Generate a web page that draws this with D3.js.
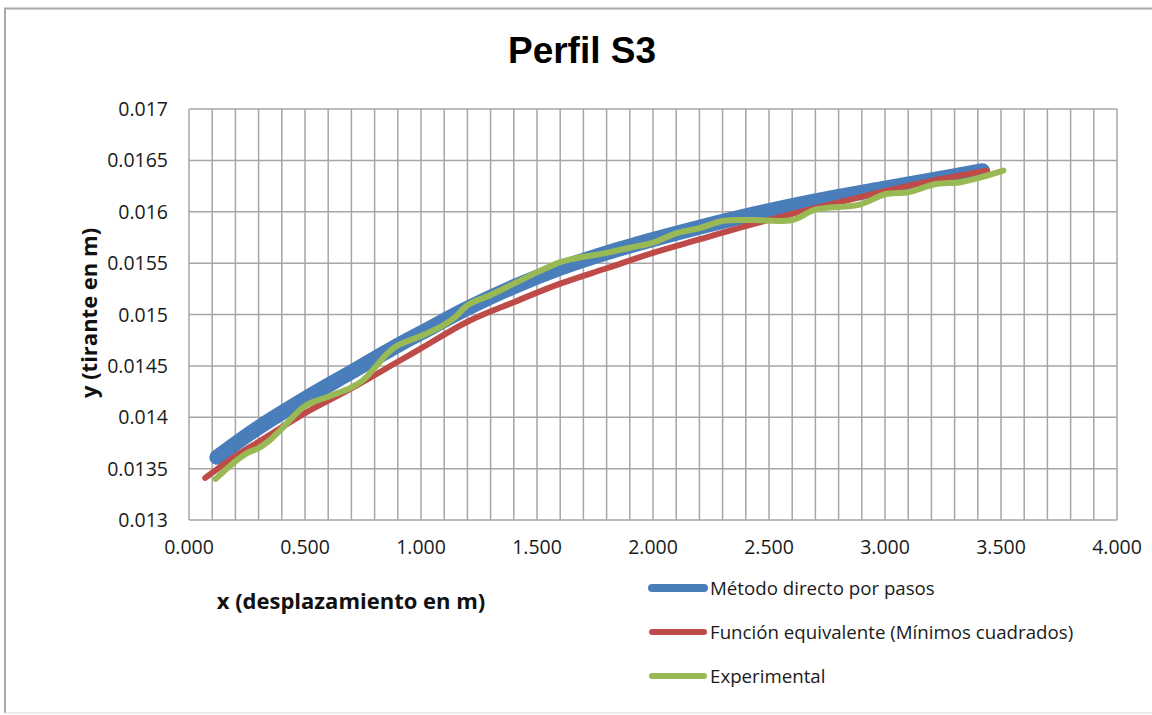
<!DOCTYPE html>
<html>
<head>
<meta charset="utf-8">
<script src="https://cdn.jsdelivr.net/npm/d3@7/dist/d3.min.js"></script>
<style>
    body { margin: 0; background: #fff; }
    .grid line { stroke: #a6a6a6; stroke-width: 1.5; }
    .tick-label { font-family: "Open Sans", sans-serif; font-size: 19.5px; fill: #1a1a1a; }
    .axis-title { font-family: "Open Sans", sans-serif; font-size: 22px; font-weight: bold; fill: #111; }
    .legend-label { font-family: "Open Sans", sans-serif; font-size: 18.7px; fill: #1a1a1a; }
</style>
</head>
<body>
<div id="chart"></div>
<script>
// Método directo por pasos
var metodoX = [0.12, 0.30, 0.50, 0.70, 0.90, 1.00, 1.20, 1.40, 1.60, 1.80, 2.00, 2.20, 2.40, 2.60, 2.80, 3.00, 3.20, 3.42];
var metodoY = [0.01361, 0.01390, 0.01418, 0.01444, 0.01470, 0.01482, 0.01506, 0.01527, 0.01545, 0.01560,
    0.01573, 0.01585, 0.01596, 0.01606, 0.01615, 0.01623, 0.01631, 0.01640];

// Función equivalente (Mínimos cuadrados)
var funcionX = [0.07, 0.20, 0.30, 0.50, 0.70, 0.90, 1.00, 1.20, 1.40, 1.60, 1.80, 2.00, 2.20, 2.40, 2.60, 2.80, 3.00, 3.20, 3.44];
var funcionY = [0.01341, 0.01362, 0.01376, 0.01404, 0.01428, 0.01454, 0.01467, 0.01493, 0.01512, 0.01530,
    0.01545, 0.01560, 0.01573, 0.01586, 0.01598, 0.01609, 0.01620, 0.01630, 0.01640];

// Experimental
var expX = [0.115, 0.20, 0.25, 0.30, 0.35, 0.40, 0.50, 0.60, 0.70, 0.75, 0.80, 0.85, 0.90, 1.00, 1.10, 1.15,
    1.20, 1.30, 1.40, 1.50, 1.60, 1.65, 1.80, 1.90, 2.00, 2.10, 2.20, 2.30, 2.42, 2.60, 2.70, 2.89,
    3.00, 3.10, 3.22, 3.33, 3.51];
var expY = [0.01340, 0.01357, 0.01365, 0.01370, 0.01378, 0.01389, 0.01411, 0.01420, 0.01429, 0.01436, 0.01448,
    0.01461, 0.01470, 0.01479, 0.01490, 0.01498, 0.01509, 0.01519, 0.01530, 0.01541, 0.01551, 0.01554,
    0.01560, 0.01565, 0.01570, 0.01579, 0.01584, 0.01591, 0.01592, 0.01592, 0.01602, 0.01607,
    0.01617, 0.01619, 0.01627, 0.01629, 0.01640];

var xTicks = [0, 0.5, 1, 1.5, 2, 2.5, 3, 3.5, 4];
var yTicks = [0.013, 0.0135, 0.014, 0.0145, 0.015, 0.0155, 0.016, 0.0165, 0.017];
var legendNames = ["Método directo por pasos", "Función equivalente (Mínimos cuadrados)", "Experimental"];

var width = 1152;
var height = 715;
var plot = { left: 189, right: 1117, top: 109, bottom: 520 };

var series = [
    { name: legendNames[0], xs: metodoX, ys: metodoY, color: "#4a7ebb", width: 15, legendWidth: 8 },
    { name: legendNames[1], xs: funcionX, ys: funcionY, color: "#be4b48", width: 6, legendWidth: 6 },
    { name: legendNames[2], xs: expX, ys: expY, color: "#98b954", width: 6, legendWidth: 6 }
];

var x = d3.scaleLinear().domain([0, 4]).range([plot.left, plot.right]);
var y = d3.scaleLinear().domain([0.013, 0.017]).range([plot.bottom, plot.top]);

var svg = d3.select("#chart").append("svg")
    .attr("width", width)
    .attr("height", height);

// outer chart frame (only left/top/bottom visible in the crop)
svg.append("path")
    .attr("d", "M1160,8.5 H5 V713")
    .attr("fill", "none")
    .attr("stroke", "#a8a8a8")
    .attr("stroke-width", 2);
svg.append("line")
    .attr("x1", 5).attr("x2", 1160).attr("y1", 713).attr("y2", 713)
    .attr("stroke", "#e6e6e6").attr("stroke-width", 1.5);

svg.append("text")
    .attr("x", 582)
    .attr("y", 63)
    .attr("text-anchor", "middle")
    .style("font-family", "'Liberation Sans', Arial, sans-serif")
    .style("font-weight", "bold")
    .style("font-size", "37px")
    .style("fill", "#000")
    .text("Perfil S3");

// grid: vertical every 0.1, horizontal at each y tick
var grid = svg.append("g").attr("class", "grid");
grid.selectAll(".vgrid")
    .data(d3.range(0, 41).map(function(i) { return i / 10; }))
    .enter().append("line")
    .attr("x1", function(d) { return x(d); })
    .attr("x2", function(d) { return x(d); })
    .attr("y1", plot.top)
    .attr("y2", plot.bottom);
grid.selectAll(".hgrid")
    .data(yTicks)
    .enter().append("line")
    .attr("x1", plot.left)
    .attr("x2", plot.right)
    .attr("y1", function(d) { return y(d); })
    .attr("y2", function(d) { return y(d); });

svg.selectAll(".x-label")
    .data(xTicks)
    .enter().append("text")
    .attr("class", "tick-label")
    .attr("x", function(d) { return x(d); })
    .attr("y", 554)
    .attr("text-anchor", "middle")
    .text(function(d) { return d3.format(".3f")(d); });

svg.selectAll(".y-label")
    .data(yTicks)
    .enter().append("text")
    .attr("class", "tick-label")
    .attr("x", 168)
    .attr("y", function(d) { return y(d) + 7; })
    .attr("text-anchor", "end")
    .text(function(d) { return +d.toFixed(4); });

svg.append("text")
    .attr("class", "axis-title")
    .attr("x", 351)
    .attr("y", 609)
    .attr("text-anchor", "middle")
    .text("x (desplazamiento en m)");

svg.append("text")
    .attr("class", "axis-title")
    .attr("transform", "translate(97,313) rotate(-90)")
    .attr("text-anchor", "middle")
    .text("y (tirante en m)");

var line = d3.line()
    .x(function(d) { return x(d[0]); })
    .y(function(d) { return y(d[1]); })
    .curve(d3.curveCatmullRom.alpha(0.5));

svg.append("g").selectAll("path")
    .data(series)
    .enter().append("path")
    .attr("d", function(s) { return line(d3.zip(s.xs, s.ys)); })
    .attr("fill", "none")
    .attr("stroke", function(s) { return s.color; })
    .attr("stroke-width", function(s) { return s.width; })
    .attr("stroke-linecap", "round")
    .attr("stroke-linejoin", "round");

var legend = svg.append("g").selectAll("g")
    .data(series)
    .enter().append("g")
    .attr("transform", function(s, i) { return "translate(0," + (588 + i * 44) + ")"; });

legend.append("line")
    .attr("x1", 652)
    .attr("x2", 704)
    .attr("y1", 0)
    .attr("y2", 0)
    .attr("stroke", function(s) { return s.color; })
    .attr("stroke-width", function(s) { return s.legendWidth; })
    .attr("stroke-linecap", "round");

legend.append("text")
    .attr("class", "legend-label")
    .attr("x", 710)
    .attr("y", 6.5)
    .text(function(s) { return s.name; });
</script>
</body>
</html>
